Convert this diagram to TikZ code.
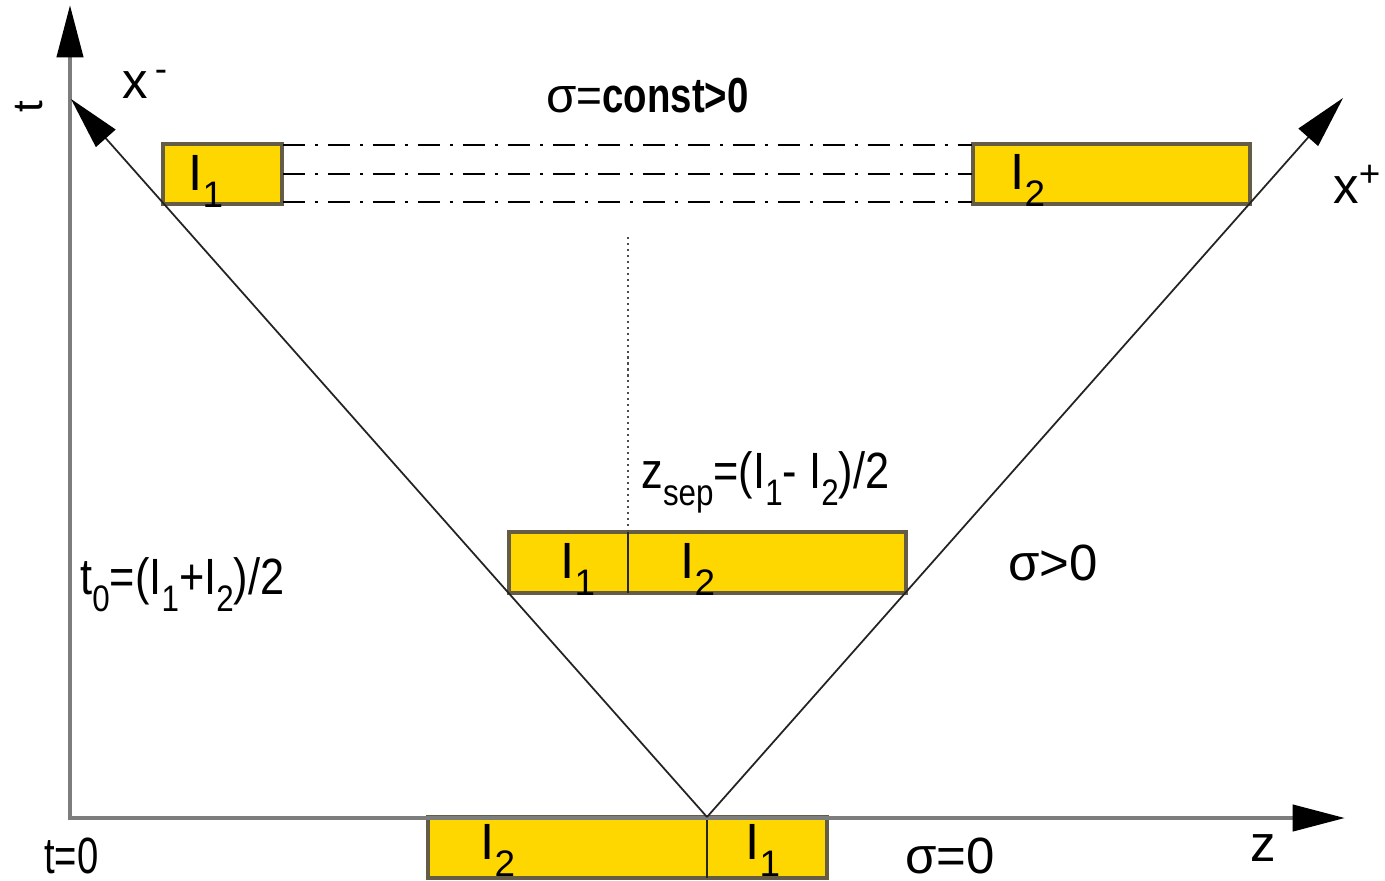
\documentclass[tikz,border=0pt]{standalone}
\usepackage{fontspec}
\setmainfont{Liberation Sans}
\usetikzlibrary{arrows.meta}
\definecolor{gold}{RGB}{255,215,0}
\definecolor{boxedge}{RGB}{100,92,68}
\definecolor{axisgray}{RGB}{125,125,125}
\definecolor{conegray}{RGB}{35,35,35}
\newcommand{\lo}[1]{\raisebox{-0.35em}{\fontsize{21}{21}\selectfont #1}}
\newcommand{\hi}[1]{\raisebox{0.32em}{\fontsize{21}{21}\selectfont #1}}
\newcommand{\nar}[2][0.85]{\scalebox{#1}[1]{#2}}
\begin{document}
\begin{tikzpicture}[x=0.02cm,y=-0.02cm,
  axis/.style={line width=2.6pt, draw=axisgray},
  cone/.style={line width=1pt, draw=conegray},
  tip/.style={-{Triangle[length=1.05cm,width=0.52cm,black]}},
  box/.style={line width=1.8pt, draw=boxedge, fill=gold},
  divider/.style={line width=1.3pt, draw=black!85},
  dashdot/.style={line width=1.6pt, draw=black, dash pattern=on 12.5pt off 5.7pt on 1.7pt off 5.7pt},
  lab/.style={inner sep=0pt, anchor=base west, font=\fontsize{29}{30}\selectfont},
]
\useasboundingbox (0,0) rectangle (1385,880);
% coordinates
\coordinate (origin) at (70,818);
\coordinate (ttip) at (70,5);
\coordinate (ztip) at (1345,818);
\coordinate (apex) at (707,817);
\coordinate (mtip) at (71,99);
\coordinate (ptip) at (1343,98);
% boxes
\draw[box] (163,144) rectangle (282,204);
\draw[box] (973,144) rectangle (1250,204);
\draw[box] (509,532) rectangle (906,593);
\draw[divider] (628,532) -- (628,593);
\draw[box] (428,817) rectangle (827,878);
\draw[divider] (707,817) -- (707,878);
% dash-dot lines
\draw[dashdot] (283,145) -- (972,145);
\draw[dashdot] (283,174) -- (972,174);
\draw[dashdot] (283,202) -- (972,202);
% dotted line
\draw[line width=0.6pt, black!70, dash pattern=on 1.2pt off 2.2pt] (628,237) -- (628,531);
% axes
\draw[axis, tip, shorten <=-1.3pt] (origin) -- (ttip);
\draw[axis, tip, shorten <=-1.3pt] (origin) -- (ztip);
% light cone
\draw[cone, tip] (apex) -- (mtip);
\draw[cone, tip] (apex) -- (ptip);
% labels
\node[lab, font=\fontsize{24}{24}\selectfont, anchor=center, rotate=90] (tlab) at (29,107) {t};
\node[lab] (xm) at (122,98) {x\hspace{4pt}\hi{-}};
\node[lab] (xp) at (1333,203) {x\hi{+}};
\node[lab, font=\fontsize{28}{28}\selectfont] (sconst) at (546,112) {σ\nar[0.9]{=}\nar[0.78]{\textbf{const>0}}};
\node[lab] (i1a) at (188,190) {I\lo{1}};
\node[lab] (i2a) at (1010,189) {I\lo{2}};
\node[lab] (zsep) at (641,488) {\nar{z\lo{sep}=(I\lo{1}- I\lo{2})/2}};
\node[lab] (i1b) at (560,578) {I\lo{1}};
\node[lab] (i2b) at (680,578) {I\lo{2}};
\node[lab] (t0) at (80,594) {\nar{t\lo{0}=(I\lo{1}+I\lo{2})/2}};
\node[lab] (sgt) at (1008,580) {σ>0};
\node[lab] (t0lab) at (44,873) {\nar[0.75]{t=0}};
\node[lab] (i2c) at (480,859) {I\lo{2}};
\node[lab] (i1c) at (745,859) {I\lo{1}};
\node[lab] (s0) at (905,873) {σ=0};
\node[lab] (zlab) at (1250,861) {z};
\end{tikzpicture}
\end{document}
